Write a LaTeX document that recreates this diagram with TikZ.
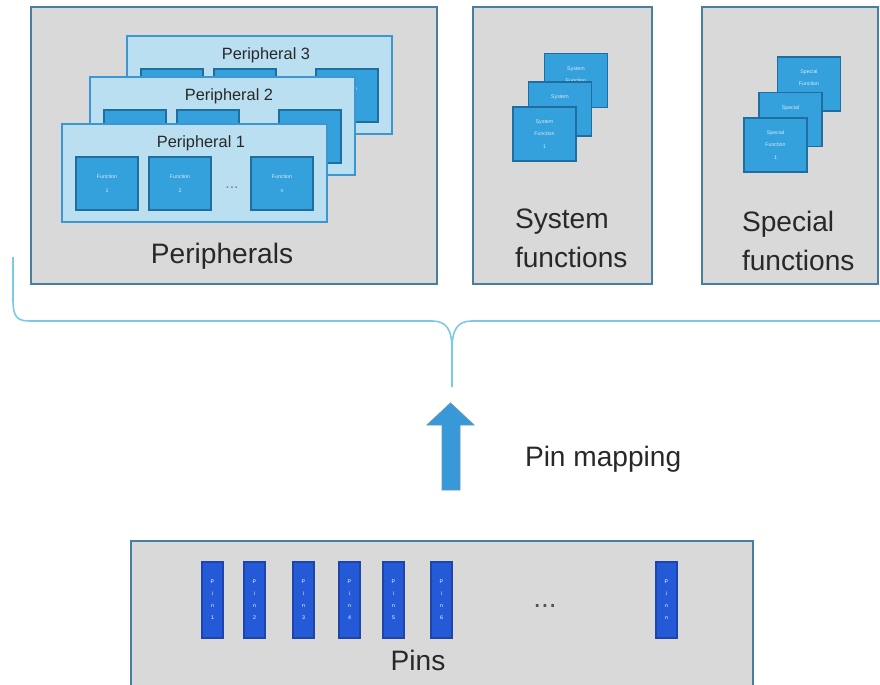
\documentclass[tikz,border=0pt]{standalone}
\usepackage{fontspec}
\setmainfont{Liberation Sans}
\usetikzlibrary{calc}
\definecolor{groupgray}{RGB}{217,217,217}
\definecolor{boxedge}{RGB}{74,126,160}
\definecolor{perfill}{RGB}{185,223,241}
\definecolor{peredge}{RGB}{62,150,208}
\definecolor{funcfill}{RGB}{52,160,220}
\definecolor{funcedge}{RGB}{32,110,160}
\definecolor{functext}{RGB}{215,236,250}
\definecolor{pinfill}{RGB}{36,90,216}
\definecolor{pinedge}{RGB}{30,70,170}
\definecolor{arrowfill}{RGB}{56,152,216}
\definecolor{bracecol}{RGB}{125,200,232}
\definecolor{labeltext}{RGB}{40,40,40}

\begin{document}
\begin{tikzpicture}[
  x=0.02cm, y=-0.02cm,
  every node/.style={font=\fontsize{16}{22}\selectfont, text=labeltext,
                     inner sep=0pt, outer sep=0pt},
  groupbox/.style={draw=boxedge, line width=1.1pt, fill=groupgray, anchor=north west},
  perbox/.style={draw=peredge, line width=1pt, fill=perfill, anchor=north west,
                 minimum width=5.3cm, minimum height=1.96cm},
  funcbox/.style={draw=funcedge, line width=0.7pt, fill=funcfill, align=center,
                  minimum width=1.24cm, minimum height=1.06cm,
                  text=functext, font=\fontsize{3}{8}\selectfont},
  functxt/.style={align=center, text=functext, font=\fontsize{3}{8}\selectfont},
  sqbox/.style={funcbox, minimum width=1.26cm, minimum height=1.08cm,
                font=\fontsize{3}{7}\selectfont},
  pinbox/.style={draw=pinedge, line width=0.6pt, fill=pinfill, align=center,
                 anchor=north west, minimum width=0.42cm, minimum height=1.52cm,
                 text=white, font=\fontsize{3}{6.8}\selectfont},
  pertitle/.style={font=\fontsize{9.3}{11}\selectfont, anchor=base},
  brace/.style={draw=bracecol, line width=0.9pt}
]
\useasboundingbox (0,0) rectangle (880,684);

% the three groups on top
\node[groupbox, minimum width=8.12cm, minimum height=5.54cm] (periphs) at (31,7) {};
\node[groupbox, minimum width=3.58cm, minimum height=5.54cm] (sysfn) at (473,7) {};
\node[groupbox, minimum width=3.52cm, minimum height=5.54cm] (specfn) at (702,7) {};

% stacked peripherals, back to front
\foreach \k/\L/\T in {3/127/36, 2/90/77, 1/62/124} {
  \node[perbox] (per\k) at (\L,\T) {};
  \node[pertitle] (per\k title) at ($(per\k.north)+(6.5,23)$) {Peripheral \k};
  \node[funcbox, anchor=north west] (per\k f1) at (\L+14,\T+33) {};
  \node[funcbox, anchor=north west] (per\k f2) at (\L+87,\T+33) {};
  \node[funcbox, anchor=north west] (per\k fn) at (\L+189,\T+33) {};
  \node[font=\fontsize{9}{9}\selectfont, text=gray] (per\k dots) at (\L+170,\T+64) {...};
  \ifnum\k=3
    \begin{scope}
      \clip (356,0) rectangle (per3fn.south east);
      \node[functxt] (per3fn text) at (per3fn) {Function\\n};
    \end{scope}
  \fi
}
\node[functxt] (per1f1 text) at (per1f1) {Function\\1};
\node[functxt] (per1f2 text) at (per1f2) {Function\\2};
\node[functxt] (per1fn text) at (per1fn) {Function\\n};
\node[anchor=base] (periphlabel) at (222,263) {Peripherals};

% system functions
\node[sqbox] (sys3) at (576,80.5) {System\\Function\\\phantom{1}};
\node[sqbox] (sys2) at (560,109) {System\\Function\\\phantom{1}};
\node[sqbox] (sys1) at (544.5,134) {System\\Function\\1};
\node[anchor=base west, align=left] (syslabel) at (515,267) {System\\functions};

% special functions
\node[sqbox] (spec3) at (809,84) {Special\\Function\\\phantom{1}};
\node[sqbox] (spec2) at (790.5,119.5) {Special\\Function\\\phantom{1}};
\node[sqbox] (spec1) at (775.5,145) {Special\\Function\\1};
\node[anchor=base west, align=left] (speclabel) at (742,270) {Special\\functions};

% brace over all groups
\draw[brace] (13,257) -- (13,300) .. controls (13,317) and (17,321) .. (30,321)
  -- (432,321) .. controls (447,321) and (452,330) .. (452,350) -- (452,387);
\draw[brace] (452,350) .. controls (452,330) and (457,321) .. (472,321) -- (885,321);

% mapping arrow
\filldraw[fill=arrowfill, draw=funcedge!70, line width=0.5pt]
  (442,490) -- (442,425) -- (427,425) -- (450.5,403) -- (474,425)
  -- (460,425) -- (460,490) -- cycle;
\node[anchor=base west] (maplabel) at (525,466) {Pin mapping};

% pins
\node[groupbox, minimum width=12.44cm, minimum height=2.98cm] (pins) at (131,541) {};
\foreach \n/\px in {1/202, 2/244, 3/293, 4/339, 5/383, 6/431}
  \node[pinbox] (pin\n) at (\px,562) {P\\i\\n\\\n};
\node[pinbox] (pinn) at (656,562) {P\\i\\n\\n};
\node[text=labeltext!80] (pindots) at (545,606) {...};
\node[anchor=base] (pinslabel) at (418,670) {Pins};

\end{tikzpicture}
\end{document}
